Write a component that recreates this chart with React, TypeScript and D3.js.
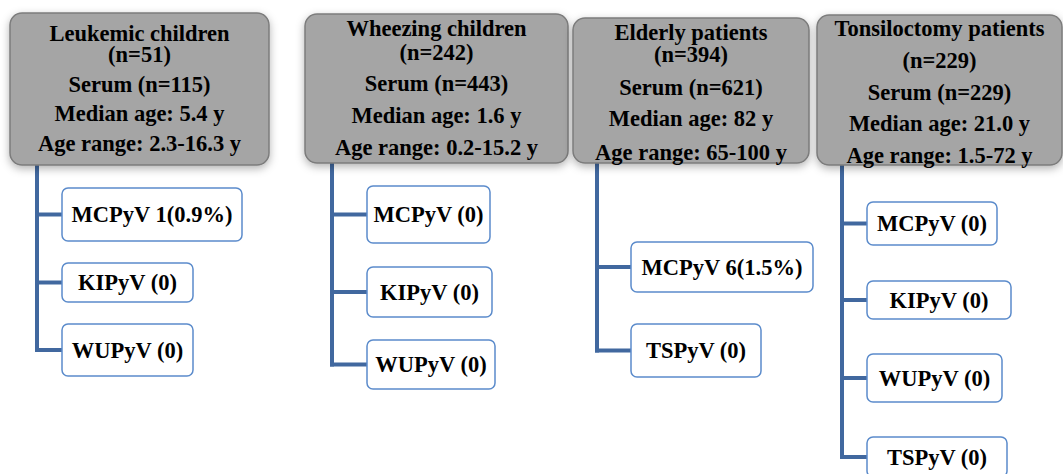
import { useEffect, useRef } from "react";
import * as d3 from "d3";

// study groups
const groups = ["Leukemic children", "Wheezing children", "Elderly patients", "Tonsiloctomy patients"];
const groupN = [51, 242, 394, 229];
const serumN = [115, 443, 621, 229];
const medianAge = ["5.4", "1.6", "82", "21.0"];
const ageRange = ["2.3-16.3", "0.2-15.2", "65-100", "1.5-72"];

// polyomavirus results per group
const virusNames = [
    ["MCPyV", "KIPyV", "WUPyV"],
    ["MCPyV", "KIPyV", "WUPyV"],
    ["MCPyV", "TSPyV"],
    ["MCPyV", "KIPyV", "WUPyV", "TSPyV"],
];
const virusResults = [
    ["1(0.9%)", "(0)", "(0)"],
    ["(0)", "(0)", "(0)"],
    ["6(1.5%)", "(0)"],
    ["(0)", "(0)", "(0)", "(0)"],
];

// layout (pixels) -- [x0, y0, x1, y1]
const headerBox = [
    [10, 13, 269, 165],
    [305, 14, 568, 163],
    [573, 18, 809, 163],
    [817, 15, 1062, 165],
];
const headerRows = [
    [33, 54, 84, 113, 143],
    [28, 52, 83, 115, 147],
    [32, 54, 87, 118, 152],
    [28, 60, 92, 123, 155],
];
const trunkX = [37, 332, 597, 842];
const childBox = [
    [[62, 188, 242, 241], [62, 263, 193, 302], [62, 324, 193, 376]],
    [[367, 186, 490, 243], [367, 267, 492, 317], [367, 340, 495, 389]],
    [[631, 242, 813, 292], [631, 324, 761, 377]],
    [[867, 202, 997, 245], [867, 281, 1011, 319], [867, 354, 1002, 402], [867, 437, 1007, 477]],
];

export default function App() {
    const ref = useRef<SVGSVGElement | null>(null);

    useEffect(() => {
        if (!ref.current) return;
        const width = 1063;
        const height = 474;

        const svg = d3.select(ref.current);
        svg.selectAll("*").remove();
        svg.attr("width", width).attr("height", height);

        const defs = svg.append("defs");
        const f = defs.append("filter").attr("id", "shadow")
            .attr("x", "-10%").attr("y", "-10%").attr("width", "120%").attr("height", "130%");
        f.append("feDropShadow")
            .attr("dx", 0).attr("dy", 3).attr("stdDeviation", 4)
            .attr("flood-color", "#000").attr("flood-opacity", 0.3);

        svg.append("rect").attr("width", width).attr("height", height).attr("fill", "#fff");

        const font = "'Liberation Serif', 'Times New Roman', serif";

        groups.forEach((name, i) => {
            const [x0, y0, x1, y1] = headerBox[i];
            const g = svg.append("g");
            const kids = childBox[i];

            // trunk + branches
            const last = kids[kids.length - 1];
            const lastY = (last[1] + last[3]) / 2;
            const tx = trunkX[i];
            g.append("line")
                .attr("x1", tx).attr("x2", tx)
                .attr("y1", y1).attr("y2", lastY + 2)
                .attr("stroke", "#41689f").attr("stroke-width", 4);
            kids.forEach((b) => {
                const my = (b[1] + b[3]) / 2;
                g.append("line")
                    .attr("x1", tx - 2).attr("x2", b[0])
                    .attr("y1", my).attr("y2", my)
                    .attr("stroke", "#41689f").attr("stroke-width", 4);
            });

            // header box
            g.append("rect")
                .attr("x", x0).attr("y", y0)
                .attr("width", x1 - x0).attr("height", y1 - y0)
                .attr("rx", 12)
                .attr("fill", "#a5a5a5")
                .attr("stroke", "#7c7c7c")
                .attr("stroke-width", 1.5)
                .attr("filter", "url(#shadow)");

            const lines = [
                name,
                `(n=${groupN[i]})`,
                `Serum (n=${serumN[i]})`,
                `Median age: ${medianAge[i]} y`,
                `Age range: ${ageRange[i]} y`,
            ];
            const cx = (x0 + x1) / 2;
            g.selectAll("text.hdr")
                .data(lines)
                .enter()
                .append("text")
                .attr("class", "hdr")
                .attr("x", cx)
                .attr("y", (d, j) => headerRows[i][j])
                .attr("dy", "0.35em")
                .attr("text-anchor", "middle")
                .attr("font-family", font)
                .attr("font-weight", "bold")
                .attr("font-size", "22.5px")
                .attr("fill", "#000")
                .text((d) => d);

            // child boxes
            kids.forEach((b, j) => {
                g.append("rect")
                    .attr("x", b[0]).attr("y", b[1])
                    .attr("width", b[2] - b[0]).attr("height", b[3] - b[1])
                    .attr("rx", 6)
                    .attr("fill", "#fff")
                    .attr("stroke", "#5b8bcb")
                    .attr("stroke-width", 1.5);
                g.append("text")
                    .attr("x", (b[0] + b[2]) / 2)
                    .attr("y", (b[1] + b[3]) / 2)
                    .attr("dy", "0.35em")
                    .attr("text-anchor", "middle")
                    .attr("font-family", font)
                    .attr("font-weight", "bold")
                    .attr("font-size", "22.5px")
                    .attr("fill", "#000")
                    .text(`${virusNames[i][j]} ${virusResults[i][j]}`);
            });
        });
    }, []);

    return (
        <svg
            ref={(el) => { if (el) ref.current = el; }}
            style={{ position: "absolute", left: 0, top: 0, display: "block" }}
        ></svg>
    );
}
